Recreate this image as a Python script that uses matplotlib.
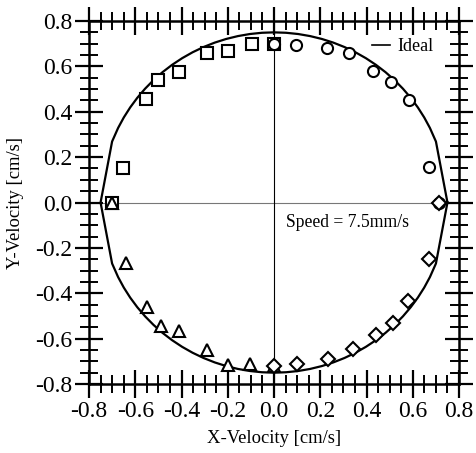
import numpy as np
import matplotlib.pyplot as plt
from matplotlib.ticker import MultipleLocator
from matplotlib.lines import Line2D

plt.rcParams['font.family'] = ['Liberation Serif', 'DejaVu Serif']

# measured velocity components, one marker per quadrant
sq_x = [-0.70, -0.654, -0.554, -0.50, -0.41, -0.29, -0.20, -0.095, 0.0]
sq_y = [0.0, 0.154, 0.458, 0.54, 0.575, 0.66, 0.67, 0.70, 0.70]

circ_x = [0.0, 0.095, 0.23, 0.325, 0.43, 0.505, 0.585, 0.67, 0.715]
circ_y = [0.70, 0.695, 0.68, 0.66, 0.58, 0.53, 0.45, 0.155, 0.0]

tri_x = [-0.70, -0.64, -0.55, -0.49, -0.41, -0.29, -0.20, -0.105, 0.0]
tri_y = [0.0, -0.265, -0.46, -0.545, -0.565, -0.65, -0.715, -0.71, -0.72]

dia_x = [0.0, 0.10, 0.235, 0.34, 0.44, 0.515, 0.58, 0.67, 0.715]
dia_y = [-0.72, -0.71, -0.69, -0.645, -0.585, -0.53, -0.435, -0.25, 0.0]

# ideal curve: circle of 0.75 cm/s drawn through these angles (deg)
ideal_r = 0.75
ideal_deg = ([0, 21] + list(range(26, 155, 4)) + [159, 180, 201]
             + list(range(206, 335, 4)) + [339, 360])

fig = plt.figure(figsize=(4.77, 4.53), dpi=100)
ax = fig.add_axes([0.1866, 0.1523, 0.7757, 0.8013])

ax.axhline(0, color='#777777', lw=0.8, zorder=1)
ax.axvline(0, color='black', lw=0.8, zorder=1)

th = np.radians(ideal_deg)
ax.plot(ideal_r * np.cos(th), ideal_r * np.sin(th), color='black', lw=1.6, zorder=2)

mk = dict(linestyle='none', mfc='white', mec='black', mew=1.5, zorder=3)
ax.plot(sq_x, sq_y, marker='s', ms=9, **mk)
ax.plot(circ_x, circ_y, marker='o', ms=8, **mk)
ax.plot(tri_x, tri_y, marker='^', ms=8.5, **mk)
ax.plot(dia_x, dia_y, marker='D', ms=7, **mk)

ax.text(0.05, -0.09, 'Speed = 7.5mm/s', fontsize=12.7, va='center', ha='left')

ax.legend(handles=[Line2D([], [], color='black', lw=1.2)], labels=['Ideal'],
          loc='upper right', bbox_to_anchor=(0.975, 0.998), frameon=False,
          handlelength=1.0, handletextpad=0.4, fontsize=13)

ax.set_xlim(-0.8, 0.8)
ax.set_ylim(-0.8, 0.8)
ax.xaxis.set_major_locator(MultipleLocator(0.2))
ax.yaxis.set_major_locator(MultipleLocator(0.2))
ax.xaxis.set_minor_locator(MultipleLocator(0.05))
ax.yaxis.set_minor_locator(MultipleLocator(0.05))
ax.xaxis.set_major_formatter(lambda v, p: f'{v:.1f}'.replace('-0.0', '0.0'))
ax.yaxis.set_major_formatter(lambda v, p: f'{v:.1f}'.replace('-0.0', '0.0'))

ax.tick_params(which='both', direction='inout', top=True, right=True,
               labeltop=False, labelright=False, labelsize=17, width=1.6, pad=2)
ax.tick_params(which='major', length=20)
ax.tick_params(which='minor', length=13, width=1.4)
for s in ax.spines.values():
    s.set_linewidth(1.8)

ax.set_xlabel('X-Velocity [cm/s]', fontsize=13.4, labelpad=6)
ax.set_ylabel('Y-Velocity [cm/s]', fontsize=13.4, labelpad=8)

fig.savefig('out.png', dpi=100)
